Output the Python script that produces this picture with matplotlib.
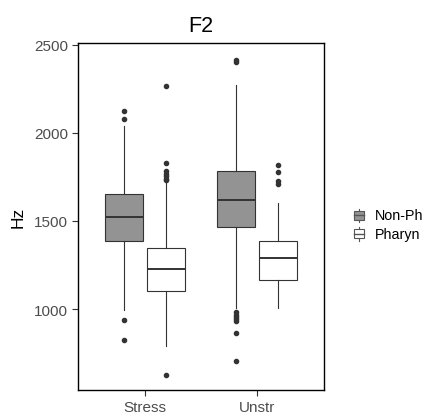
import matplotlib
matplotlib.use("Agg")
import matplotlib.pyplot as plt
from matplotlib.legend_handler import HandlerBase
from matplotlib.patches import Rectangle
from matplotlib.lines import Line2D

plt.rcParams['font.family'] = ['Liberation Sans', 'DejaVu Sans']

# values (Hz)
categories = ["Stress", "Unstr"]
groups = ["Non-Ph", "Pharyn"]
group_colors = ["#939393", "#FFFFFF"]

q1 = {"Non-Ph": [1385, 1468], "Pharyn": [1104, 1165]}
med = {"Non-Ph": [1524, 1617], "Pharyn": [1227, 1292]}
q3 = {"Non-Ph": [1652, 1786], "Pharyn": [1348, 1385]}
whislo = {"Non-Ph": [994, 1004], "Pharyn": [792, 1004]}
whishi = {"Non-Ph": [2042, 2273], "Pharyn": [1724, 1602]}
fliers = {
    "Non-Ph": [[2078, 2123, 938, 824],
               [2405, 2415, 981, 968, 955, 943, 930, 862, 706]],
    "Pharyn": [[2265, 1828, 1786, 1767, 1754, 1739, 1730, 627],
               [1818, 1777, 1726, 1710]],
}

EDGE = "#333333"


class BoxKey(HandlerBase):
    def __init__(self, fc):
        super().__init__()
        self.fc = fc

    def create_artists(self, legend, orig, xd, yd, w, h, fontsize, trans):
        cx = xd + w / 2
        arts = [
            Line2D([cx, cx], [yd - h * 0.25, yd + h * 1.25], color="#555555", lw=0.8),
            Rectangle((xd, yd), w, h, fc=self.fc, ec="#555555", lw=0.8),
            Line2D([xd, xd + w], [yd + h / 2] * 2, color="#555555", lw=1.0),
        ]
        for a in arts:
            a.set_transform(trans)
        return arts


def main():
    fig = plt.figure(figsize=(4.28, 4.14), dpi=100)
    ax = fig.add_axes([0.1822, 0.0556, 0.5748, 0.8381])

    offsets = [-0.1875, 0.1875]
    handles = []
    for g, name in enumerate(groups):
        stats = []
        for i in range(len(categories)):
            stats.append(dict(q1=q1[name][i], med=med[name][i], q3=q3[name][i],
                              whislo=whislo[name][i], whishi=whishi[name][i],
                              fliers=fliers[name][i]))
        pos = [i + 1 + offsets[g] for i in range(len(categories))]
        ax.bxp(stats, positions=pos, widths=0.335, patch_artist=True,
               showcaps=False,
               boxprops=dict(facecolor=group_colors[g], edgecolor=EDGE, linewidth=0.8),
               medianprops=dict(color=EDGE, linewidth=1.4),
               whiskerprops=dict(color=EDGE, linewidth=0.8),
               flierprops=dict(marker="o", markersize=3, markerfacecolor=EDGE,
                               markeredgecolor=EDGE))
        h = Rectangle((0, 0), 1, 1, fc=group_colors[g])
        handles.append(h)

    ax.set_xlim(0.4, 2.6)
    ax.set_ylim(540, 2511)
    ax.set_xticks([1, 2])
    ax.set_xticklabels(categories)
    ax.set_yticks([1000, 1500, 2000, 2500])
    ax.tick_params(labelsize=11, labelcolor="#4D4D4D", color="#333333",
                   length=4, width=0.8, pad=3)
    for s in ax.spines.values():
        s.set_linewidth(1.0)
        s.set_color("black")
    ax.set_ylabel("Hz", fontsize=12.5, labelpad=6)
    ax.set_title("F2", fontsize=15.5, pad=9)

    fig.legend(handles, groups, loc="center left", bbox_to_anchor=(0.826, 0.455),
               frameon=False, fontsize=10.3, handlelength=0.7, handleheight=0.6,
               handletextpad=0.8, labelspacing=0.3, borderaxespad=0,
               borderpad=0,
               handler_map={handles[0]: BoxKey(group_colors[0]),
                            handles[1]: BoxKey(group_colors[1])})

    fig.savefig("out.png", dpi=100)


if __name__ == '__main__':
    main()
